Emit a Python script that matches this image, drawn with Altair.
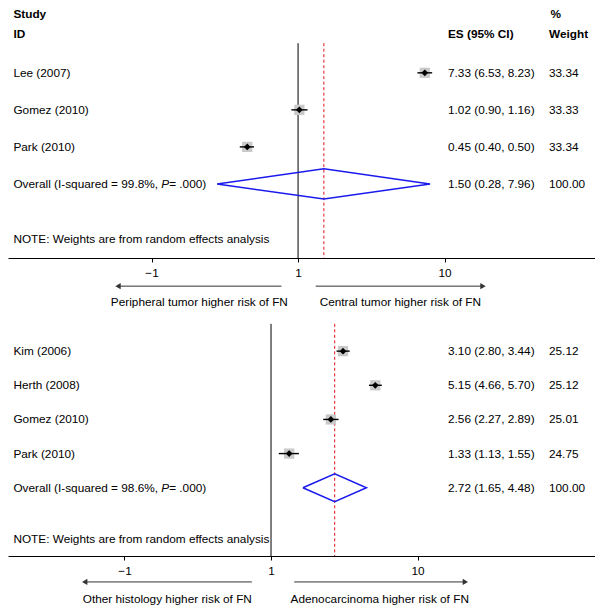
import altair as alt
import pandas as pd

FONT = "Liberation Sans"
FS = 11.8

# ---------------- data: panel 1 (central vs peripheral tumour) ----------------
p1_studies = ["Lee (2007)", "Gomez (2010)", "Park (2010)"]
p1_es = [7.33, 1.02, 0.45]
p1_lo = [6.53, 0.90, 0.40]
p1_hi = [8.23, 1.16, 0.50]
p1_weight = [33.34, 33.33, 33.34]
p1_overall = [1.50, 0.28, 7.96]          # es, lo, hi
p1_i2 = "99.8%"
p1_p = ".000"
p1_left_label = "Peripheral tumor higher risk of FN"
p1_right_label = "Central tumor higher risk of FN"

# ---------------- data: panel 2 (adenocarcinoma vs other histology) ----------------
p2_studies = ["Kim (2006)", "Herth (2008)", "Gomez (2010)", "Park (2010)"]
p2_es = [3.10, 5.15, 2.56, 1.33]
p2_lo = [2.80, 4.66, 2.27, 1.13]
p2_hi = [3.44, 5.70, 2.89, 1.55]
p2_weight = [25.12, 25.12, 25.01, 24.75]
p2_overall = [2.72, 1.65, 4.48]
p2_i2 = "98.6%"
p2_p = ".000"
p2_left_label = "Other histology higher risk of FN"
p2_right_label = "Adenocarcinoma higher risk of FN"

tick_values = [0.1, 1, 10]
tick_labels = ["\u22121", "1", "10"]
null_value = 1
note_text = "NOTE: Weights are from random effects analysis"
header_left = ["Study", "ID"]
header_es = "ES (95% CI)"
header_w = ["%", "Weight"]
overall_weight = "100.00"

W = 587
X_LABEL = 5.4
X_ES = 440.0
X_W = 541.0

# Arial / Liberation Sans advance widths (per 1000 em) used to place the italic "P"
_AW = {' ': 278, '(': 333, ')': 333, '-': 333, ',': 278, '.': 278, '%': 889, '=': 584,
       'O': 778, 'I': 278, 'P': 667, 'v': 500, 'e': 556, 'r': 333, 'a': 556, 'l': 222,
       's': 500, 'q': 556, 'u': 556, 'd': 556}


def text_width(s, fs):
    return sum(_AW.get(c, 556) for c in s) * fs / 1000.0


# label expression for the axis
label_expr = "'" + tick_labels[-1] + "'"
for v, l in reversed(list(zip(tick_values[:-1], tick_labels[:-1]))):
    label_expr = f"abs(datum.value - {v}) < {v * 0.01} ? '{l}' : " + label_expr


def panel(studies, es, lo, hi, weight, overall, i2, pval, left_label, right_label,
          x_domain, y_domain, height, arrows, header):
    n = len(studies)
    rows = list(range(1, n + 1))
    overall_row = n + 1
    note_row = n + 2.5
    axis_row = n + 3

    xscale = alt.Scale(type="log", domain=x_domain, nice=False, zero=False)
    xaxis = alt.Axis(values=tick_values, labelExpr=label_expr, title=None, grid=False,
                     domainColor="black", domainWidth=1, tickColor="black", tickSize=4,
                     tickWidth=1, labelFont=FONT, labelFontSize=FS, labelColor="black",
                     labelPadding=5, labelFlush=False)
    yscale = alt.Scale(domain=y_domain, reverse=True, nice=False, zero=False)

    def X(f):
        return alt.X(f, type="quantitative", scale=xscale, axis=xaxis)

    def Y(f):
        return alt.Y(f, type="quantitative", scale=yscale, axis=None)

    df = pd.DataFrame({
        "study": studies, "es": es, "lo": lo, "hi": hi, "row": rows,
        "es_txt": [f"{a:.2f} ({b:.2f}, {c:.2f})" for a, b, c in zip(es, lo, hi)],
        "w_txt": [f"{w:.2f}" for w in weight],
    })

    layers = []
    # reference lines
    vdf = pd.DataFrame({"x": [null_value], "y": [0.2], "y2": [axis_row]})
    layers.append(alt.Chart(vdf).mark_rule(color="black", strokeWidth=1).encode(
        x=X("x"), y=Y("y"), y2="y2"))
    odf = pd.DataFrame({"x": [overall[0]], "y": [0.2], "y2": [axis_row]})
    layers.append(alt.Chart(odf).mark_rule(color="#e3131b", strokeWidth=1, strokeDash=[3, 2.5]).encode(
        x=X("x"), y=Y("y"), y2="y2"))

    # study markers
    layers.append(alt.Chart(df).mark_square(size=105, color="#c9c9c9", opacity=1).encode(
        x=X("es"), y=Y("row")))
    layers.append(alt.Chart(df).mark_rule(color="black", strokeWidth=1.4).encode(
        x=X("lo"), x2="hi", y=Y("row")))
    layers.append(alt.Chart(df).mark_point(shape="diamond", filled=True, color="black",
                                           size=45, opacity=1).encode(
        x=X("es"), y=Y("row")))

    # overall diamond
    ddf = pd.DataFrame({
        "x": [overall[1], overall[0], overall[2], overall[0], overall[1]],
        "y": [overall_row, overall_row - 0.41, overall_row, overall_row + 0.41, overall_row],
        "o": [0, 1, 2, 3, 4],
    })
    layers.append(alt.Chart(ddf).mark_line(color="#1a1aee", strokeWidth=1.5).encode(
        x=X("x"), y=Y("y"), order="o:Q"))

    # text columns
    txt = dict(align="left", baseline="middle", font=FONT, fontSize=FS, color="black")
    layers.append(alt.Chart(df).mark_text(**txt).encode(
        x=alt.value(X_LABEL), y=Y("row"), text="study:N"))
    layers.append(alt.Chart(df).mark_text(**txt).encode(
        x=alt.value(X_ES), y=Y("row"), text="es_txt:N"))
    layers.append(alt.Chart(df).mark_text(**txt).encode(
        x=alt.value(X_W), y=Y("row"), text="w_txt:N"))

    # overall row text (with italic P)
    seg1 = f"Overall (I-squared = {i2}, "
    seg2 = "P"
    seg3 = f" = {pval})"
    x1 = X_LABEL
    x2 = x1 + text_width(seg1, FS)
    x3 = x2 + text_width(seg2, FS)
    for t, px, style in [(seg1, x1, "normal"), (seg2, x2, "italic"), (seg3, x3, "normal")]:
        sub = pd.DataFrame({"t": [t], "row": [overall_row]})
        layers.append(alt.Chart(sub).mark_text(fontStyle=style, **txt).encode(
            x=alt.value(px), y=Y("row"), text="t:N"))
    ovt = pd.DataFrame({
        "row": [overall_row],
        "es_txt": [f"{overall[0]:.2f} ({overall[1]:.2f}, {overall[2]:.2f})"],
        "w_txt": [overall_weight],
    })
    layers.append(alt.Chart(ovt).mark_text(**txt).encode(
        x=alt.value(X_ES), y=Y("row"), text="es_txt:N"))
    layers.append(alt.Chart(ovt).mark_text(**txt).encode(
        x=alt.value(X_W), y=Y("row"), text="w_txt:N"))

    # note
    ndf = pd.DataFrame({"row": [note_row], "t": [note_text]})
    layers.append(alt.Chart(ndf).mark_text(**txt).encode(
        x=alt.value(X_LABEL), y=Y("row"), text="t:N"))

    # header
    if header:
        hdf = pd.DataFrame({
            "t": [header_left[0], header_left[1], header_es, header_w[0], header_w[1]],
            "row": [-0.58, -0.05, -0.05, -0.58, -0.05],
            "px": [X_LABEL, X_LABEL, X_ES, X_W + 1.5, X_W],
        })
        for i in range(len(hdf)):
            sub = hdf.iloc[[i]]
            layers.append(alt.Chart(sub).mark_text(fontWeight="bold", **txt).encode(
                x=alt.value(float(sub["px"].iloc[0])), y=Y("row"), text="t:N"))

    # direction arrows below the axis
    a_row, l_row = arrows["rows"]
    adf = pd.DataFrame({
        "x": [arrows["left"][0], arrows["right"][0]],
        "x2": [arrows["left"][1], arrows["right"][1]],
        "row": [a_row, a_row],
    })
    layers.append(alt.Chart(adf).mark_rule(color="#333333", strokeWidth=1).encode(
        x=X("x"), x2="x2", y=Y("row")))
    hdl = pd.DataFrame({"x": [arrows["left"][0]], "row": [a_row]})
    layers.append(alt.Chart(hdl).mark_point(shape="triangle-left", filled=True, color="#333333",
                                            size=38, opacity=1).encode(x=X("x"), y=Y("row")))
    hdr = pd.DataFrame({"x": [arrows["right"][1]], "row": [a_row]})
    layers.append(alt.Chart(hdr).mark_point(shape="triangle-right", filled=True, color="#333333",
                                            size=38, opacity=1).encode(x=X("x"), y=Y("row")))
    ldf = pd.DataFrame({"x": arrows["centers"], "row": [l_row, l_row],
                        "t": [left_label, right_label]})
    layers.append(alt.Chart(ldf).mark_text(align="center", baseline="middle", font=FONT,
                                           fontSize=FS, color="black").encode(
        x=X("x"), y=Y("row"), text="t:N"))

    return alt.layer(*layers).properties(width=W, height=height)


top = panel(p1_studies, p1_es, p1_lo, p1_hi, p1_weight, p1_overall, p1_i2, p1_p,
            p1_left_label, p1_right_label,
            x_domain=[0.01047, 106.4], y_domain=[-0.75, 6], height=250,
            arrows={"left": [0.059, 0.77], "right": [1.32, 18.3], "centers": [0.212, 4.99],
                    "rows": [6.76, 7.19]},
            header=True)

bottom = panel(p2_studies, p2_es, p2_lo, p2_hi, p2_weight, p2_overall, p2_i2, p2_p,
               p2_left_label, p2_right_label,
               x_domain=[0.01603, 162.6], y_domain=[0, 7], height=239,
               arrows={"left": [0.0535, 0.74], "right": [1.44, 21.2], "centers": [0.196, 5.52],
                       "rows": [7.76, 8.26]},
               header=False)

chart = alt.vconcat(top, bottom, spacing=59, bounds="flush").resolve_scale(
    x="independent", y="independent"
).properties(padding=0).configure_view(stroke=None)

chart.save("out.html", embed_options={"renderer": "svg", "actions": False})
